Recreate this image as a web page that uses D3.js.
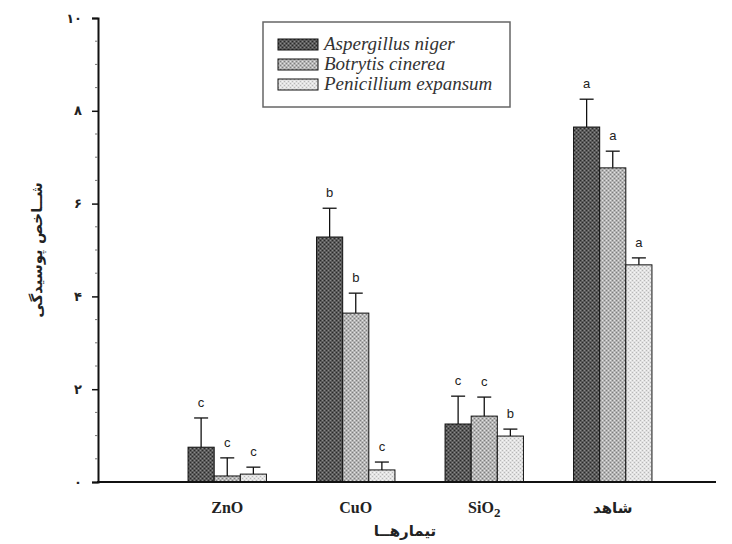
<!DOCTYPE html>
<html>
<head>
<meta charset="utf-8">
<script src="https://cdn.jsdelivr.net/npm/d3@7"></script>
<style>
  body { margin: 0; background: #fff; }
  svg { display: block; }
</style>
</head>
<body>
<div id="chart"></div>
<script>
// treatments and series
const categories = ['ZnO', 'CuO', 'SiO2', 'شاهد'];
const seriesNames = ['Aspergillus niger', 'Botrytis cinerea', 'Penicillium expansum'];

// decay index values
const asperValues = [0.75, 5.28, 1.25, 7.65];
const botryValues = [0.13, 3.64, 1.42, 6.77];
const penicValues = [0.17, 0.26, 0.99, 4.68];

// error bar heights (sd)
const asperErr = [0.63, 0.62, 0.60, 0.60];
const botryErr = [0.39, 0.43, 0.41, 0.36];
const penicErr = [0.15, 0.17, 0.15, 0.15];

// significance letters
const asperLetters = ['c', 'b', 'c', 'a'];
const botryLetters = ['c', 'b', 'c', 'a'];
const penicLetters = ['c', 'c', 'b', 'a'];

const yTicks = [0, 2, 4, 6, 8, 10];
const faDigits = ['۰', '۱', '۲', '۳', '۴', '۵', '۶', '۷', '۸', '۹'];

const width = 732, height = 544;
const serif = "'Liberation Serif', 'Times New Roman', serif";
const sans = "'DejaVu Sans', sans-serif";

const svg = d3.select('#chart').append('svg')
  .attr('width', width)
  .attr('height', height);

// patterns for the three series
const defs = svg.append('defs');
function makePattern(id, bg, dot, dot2) {
  const p = defs.append('pattern')
    .attr('id', id)
    .attr('width', 4).attr('height', 4)
    .attr('patternUnits', 'userSpaceOnUse');
  p.append('rect').attr('width', 4).attr('height', 4).attr('fill', bg);
  p.append('rect').attr('x', 0).attr('y', 0).attr('width', 1).attr('height', 1).attr('fill', dot);
  p.append('rect').attr('x', 2).attr('y', 2).attr('width', 1).attr('height', 1).attr('fill', dot);
  p.append('rect').attr('x', 2).attr('y', 0).attr('width', 1).attr('height', 1).attr('fill', dot2);
  p.append('rect').attr('x', 0).attr('y', 2).attr('width', 1).attr('height', 1).attr('fill', dot2);
}
makePattern('pat-a', '#5a5a5a', '#2a2a2a', '#8a8a8a');
makePattern('pat-b', '#b4b4b4', '#7e7e7e', '#e2e2e2');
makePattern('pat-c', '#e2e2e2', '#b8b8b8', '#f6f6f6');
const fills = ['url(#pat-a)', 'url(#pat-b)', 'url(#pat-c)'];

// scales
const axisLeftX = 98, axisRightX = 716;
const y = d3.scaleLinear().domain([0, 10]).range([482, 18]);

const x = d3.scaleBand()
  .domain(categories)
  .range([163, 677])
  .paddingInner(0.39)
  .paddingOuter(0.195);

const xs = d3.scaleBand()
  .domain(seriesNames)
  .range([0, x.bandwidth()])
  .padding(0);

// data table built from arrays
const valueArrs = [asperValues, botryValues, penicValues];
const errArrs = [asperErr, botryErr, penicErr];
const letterArrs = [asperLetters, botryLetters, penicLetters];
const rows = [];
categories.forEach((c, ci) => {
  seriesNames.forEach((s, si) => {
    rows.push({
      cat: c, series: s, si: si,
      value: valueArrs[si][ci],
      err: errArrs[si][ci],
      letter: letterArrs[si][ci]
    });
  });
});

const cx = d => x(d.cat) + xs(d.series) + xs.bandwidth() / 2;
const g = svg.append('g');

// bars
g.selectAll('.bar')
  .data(rows)
  .enter()
  .append('rect')
  .attr('class', 'bar')
  .attr('x', d => x(d.cat) + xs(d.series))
  .attr('width', xs.bandwidth())
  .attr('y', d => y(d.value))
  .attr('height', d => y(0) - y(d.value))
  .attr('fill', d => fills[d.si])
  .attr('stroke', '#111')
  .attr('stroke-width', 1);

// error bars
const errG = g.selectAll('.err')
  .data(rows)
  .enter()
  .append('g')
  .attr('class', 'err')
  .attr('stroke', '#111')
  .attr('stroke-width', 1.3);
errG.append('line')
  .attr('x1', cx)
  .attr('x2', cx)
  .attr('y1', d => y(d.value))
  .attr('y2', d => y(d.value + d.err));
errG.append('line')
  .attr('x1', d => cx(d) - 7)
  .attr('x2', d => cx(d) + 7)
  .attr('y1', d => y(d.value + d.err))
  .attr('y2', d => y(d.value + d.err));

// letters
g.selectAll('.letter')
  .data(rows)
  .enter()
  .append('text')
  .attr('class', 'letter')
  .attr('x', cx)
  .attr('y', d => y(d.value + d.err) - 11)
  .attr('text-anchor', 'middle')
  .style('font-family', "'Liberation Sans', Arial, sans-serif")
  .style('font-size', '13px')
  .style('fill', '#222')
  .text(d => d.letter);

// y axis
const toFa = n => String(n).split('').map(ch => faDigits[+ch]).join('');
const yAxis = svg.append('g')
  .attr('transform', `translate(${axisLeftX},0)`)
  .call(d3.axisLeft(y).tickValues(yTicks).tickSize(6).tickFormat(toFa));
yAxis.select('.domain').attr('stroke', '#111').attr('stroke-width', 2);
yAxis.selectAll('.tick line').attr('stroke', '#111').attr('stroke-width', 1.5);
yAxis.selectAll('.tick text')
  .attr('x', -16)
  .style('font-family', sans)
  .style('font-size', '13px')
  .style('font-weight', 'bold')
  .style('fill', '#222');

// minor ticks
const minorTicks = d3.range(0, 10.01, 0.5).filter(v => !yTicks.includes(v));
svg.append('g')
  .selectAll('line')
  .data(minorTicks)
  .enter()
  .append('line')
  .attr('x1', axisLeftX - 3)
  .attr('x2', axisLeftX)
  .attr('y1', d => y(d))
  .attr('y2', d => y(d))
  .attr('stroke', '#777')
  .attr('stroke-width', 1);

// x axis line
svg.append('line')
  .attr('x1', axisLeftX - 1)
  .attr('x2', axisRightX)
  .attr('y1', y(0))
  .attr('y2', y(0))
  .attr('stroke', '#111')
  .attr('stroke-width', 2);

// x tick labels
const xLabels = svg.append('g');
categories.forEach(c => {
  const t = xLabels.append('text')
    .attr('x', x(c) + x.bandwidth() / 2)
    .attr('y', 513)
    .attr('text-anchor', 'middle')
    .style('font-family', c === 'شاهد' ? sans : serif)
    .style('font-size', c === 'شاهد' ? '15px' : '16px')
    .style('font-weight', 'bold')
    .style('fill', '#222');
  if (c === 'SiO2') {
    t.append('tspan').text('SiO');
    t.append('tspan').attr('dy', 4).style('font-size', '13px').text('2');
  } else {
    t.text(c);
  }
});

// axis titles
svg.append('text')
  .attr('x', 405)
  .attr('y', 536)
  .attr('text-anchor', 'middle')
  .style('font-family', sans)
  .style('font-size', '15px')
  .style('font-weight', 'bold')
  .style('fill', '#222')
  .text('تیمارهــا');

svg.append('text')
  .attr('transform', 'translate(42,250) rotate(-90)')
  .attr('text-anchor', 'middle')
  .style('font-family', sans)
  .style('font-size', '15px')
  .style('font-weight', 'bold')
  .style('fill', '#222')
  .text('شــاخص پوسیدگی');

// legend
const legend = svg.append('g').attr('transform', 'translate(263,22)');
legend.append('rect')
  .attr('width', 247).attr('height', 85)
  .attr('fill', '#fff')
  .attr('stroke', '#666')
  .attr('stroke-width', 1.5);
seriesNames.forEach((s, i) => {
  const row = legend.append('g').attr('transform', `translate(15,${17 + i * 20})`);
  row.append('rect')
    .attr('width', 40).attr('height', 11)
    .attr('fill', fills[i])
    .attr('stroke', '#111');
  row.append('text')
    .attr('x', 46).attr('y', 11)
    .style('font-family', serif)
    .style('font-style', 'italic')
    .style('font-size', '19px')
    .style('fill', '#333')
    .text(s);
});
</script>
</body>
</html>
